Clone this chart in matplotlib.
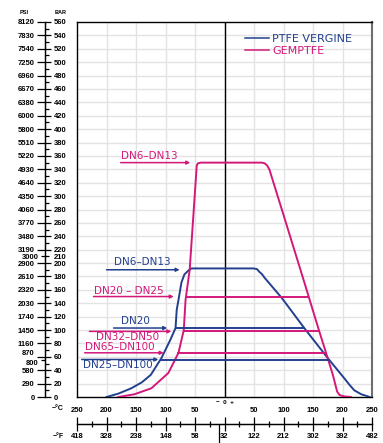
import matplotlib.pyplot as plt
from matplotlib.lines import Line2D
import numpy as np

# pressure scale (bar) with psi equivalents
bar_major = list(range(0, 561, 20))
psi_major = ['0', '290', '580', '870', '1160', '1450', '1740', '2030', '2320', '2610',
             '2900', '3190', '3480', '3770', '4060', '4350', '4640', '4930', '5220',
             '5510', '5800', '6000', '6380', '6670', '6960', '7250', '7540', '7830', '8120']
bar_minor = list(range(10, 560, 20))
psi_minor_pos = [55, 210]
psi_minor = ['800', '3000']

# temperature scale
temp_ticks = list(range(-250, 251, 50))
c_labels = ['250', '200', '150', '100', '50', '', '50', '100', '150', '200', '250']
f_labels = ['418', '328', '238', '148', '58', '32', '122', '212', '302', '392', '482']
temp_minor = list(range(-225, 250, 50))

# PTFE VERGINE envelope (deg C, bar)
ptfe_t = [-200, -180, -158, -140, -125, -107, -92, -83, -81, -78, -73, -68, -61, -56,
          49, 55, 59, 64, 68, 97, 136, 176, 190, 203, 212, 220, 232, 246]
ptfe_p = [0, 5, 13, 22, 33, 58, 85, 103, 130, 145, 171, 183, 189, 192,
          192, 191, 187, 183, 178, 148, 102, 57, 42, 28, 18, 10, 4, 0]
# GEMPTFE envelope
gem_t = [-180, -153, -124, -95, -78, -69, -66, -59, -47, -45, -40,
         63, 68, 72, 76, 100, 134, 161, 176, 184, 188, 191, 195, 202, 214]
gem_p = [0, 4, 13, 36, 66, 100, 145, 190, 346, 349, 350,
         350, 349, 346, 340, 272, 175, 97, 55, 32, 18, 8, 3, 1, 0]

# size-class plateaus: (label, level bar, left deg C, right deg C)
ptfe_levels = [('DN6–DN13', 192, None, None),
               ('DN20', 103, -83, 135),
               ('DN25–DN100', 56, -107, 177)]
gem_levels = [('DN6–DN13', 350, None, None),
              ('DN20 – DN25', 150, -63, 142),
              ('DN32–DN50', 98, -69, 161),
              ('DN65–DN100', 66, -78, 172)]

blue = '#22408e'
pink = '#d4187a'

W, H = 383, 443
fig = plt.figure(figsize=(W / 100, H / 100), dpi=100)


def box(x0, y0, x1, y1):
    return [x0 / W, 1 - y1 / H, (x1 - x0) / W, (y1 - y0) / H]


px0, py0, px1, py1 = 77, 22, 372, 397
ax = fig.add_axes(box(px0, py0, px1, py1))
ax.set_xlim(-250, 250)
ax.set_ylim(0, 560)
ax.set_xticks(range(-200, 201, 50))
ax.set_yticks(range(20, 560, 20))
ax.tick_params(length=0, labelbottom=False, labelleft=False)
ax.grid(True, color='#e3e3e3', lw=1)
ax.set_axisbelow(True)
ax.axvline(0, color='black', lw=1, zorder=1)
for s in ax.spines.values():
    s.set_color('black')
    s.set_linewidth(1)
ax.spines['right'].set_color('#6f6f6f')
ax.spines['right'].set_linewidth(1.5)

# curves
ax.plot(ptfe_t, ptfe_p, color=blue, lw=1.4, zorder=3)
ax.plot(gem_t, gem_p, color=pink, lw=1.4, zorder=3)
for name, lev, t0, t1 in ptfe_levels:
    if t0 is not None:
        ax.plot([t0, t1], [lev, lev], color=blue, lw=1.4, zorder=3)
for name, lev, t0, t1 in gem_levels:
    if t0 is not None:
        ax.plot([t0, t1], [lev, lev], color=pink, lw=1.4, zorder=3)

# labels with arrows: (text, level, colour, text x, arrow start x, arrow tip x, text offset)
tags = [('DN6–DN13', 350, pink, -176, -176, -58, 10),
        ('DN6–DN13', 190, blue, -188, -200, -76, 11),
        ('DN20 – DN25', 150, pink, -222, -222, -86, 9),
        ('DN20', 103, blue, -175, -188, -97, 10),
        ('DN32–DN50', 98, pink, -217, -229, -90, -8),
        ('DN65–DN100', 66, pink, -237, -237, -103, 9),
        ('DN25–DN100', 56, blue, -239, -242, -112, -8)]
for text, lev, col, tx, a0, a1, off in tags:
    ax.annotate('', xy=(a1, lev), xytext=(a0, lev),
                arrowprops=dict(arrowstyle='-|>', color=col, lw=1.1,
                                mutation_scale=5, shrinkA=0, shrinkB=0), zorder=4)
    ax.text(tx, lev + off, text, color=col, fontsize=7.5, ha='left', va='center',
            family='DejaVu Sans', zorder=4)

# legend
handles = [Line2D([], [], color=blue, lw=1.1), Line2D([], [], color=pink, lw=1.1)]
ax.legend(handles, ['PTFE VERGINE', 'GEMPTFE'], loc='upper left',
          bbox_to_anchor=((245 - px0) / (px1 - px0), (py1 - 34) / (py1 - py0)),
          frameon=False, fontsize=8, handlelength=2.15, handletextpad=0.3,
          labelspacing=0.15, borderpad=0, borderaxespad=0, labelcolor='linecolor')

tickfont = dict(family='Liberation Sans', weight='bold', size=5.5)

# left pressure scale
loc_y = (45 - px0) / (px1 - px0)
psi_ax = ax.secondary_yaxis(loc_y)
psi_ax.set_yticks(bar_major, psi_major)
psi_ax.set_yticks(psi_minor_pos, psi_minor, minor=True)
psi_ax.tick_params(which='major', direction='out', length=6, width=0.9, pad=1.5)
psi_ax.tick_params(which='minor', direction='out', length=3, width=0.9, pad=1.5)
bar_ax = ax.secondary_yaxis(loc_y)
bar_ax.set_alignment('right')
bar_ax.set_yticks(bar_major, [str(v) for v in bar_major])
bar_ax.set_yticks(bar_minor, ['210' if v == 210 else '' for v in bar_minor], minor=True)
bar_ax.tick_params(which='major', direction='out', length=4, width=0.9, pad=2.5)
bar_ax.tick_params(which='minor', direction='out', length=2.8, width=0.9, pad=3.7)
for a in (psi_ax, bar_ax):
    a.spines[:].set_linewidth(0.9)
    for lab in a.get_yticklabels(which='both'):
        lab.set_fontproperties(tickfont)
for lab in psi_ax.get_yticklabels():
    if lab.get_text() == '870':
        lab.set_va('bottom')
for lab in psi_ax.get_yticklabels(minor=True):
    if lab.get_text() == '800':
        lab.set_va('top')

# bottom temperature scale
loc_x = (py1 - 424) / (py1 - py0)
f_ax = ax.secondary_xaxis(loc_x)
f_ax.set_xticks(temp_ticks, f_labels)
f_ax.set_xticks(temp_minor, minor=True)
f_ax.tick_params(which='major', direction='inout', length=9.5, width=0.9, pad=1.5)
f_ax.tick_params(which='minor', direction='inout', length=5, width=0.9)
c_ax = ax.secondary_xaxis(loc_x)
c_ax.set_alignment('top')
c_ax.set_xticks(temp_ticks, c_labels)
c_ax.set_xticks([0], minor=True)
c_ax.tick_params(which='major', length=0, pad=7.5)
c_ax.tick_params(which='minor', direction='out', length=11.5, width=0.9)
z_ax = ax.secondary_xaxis(loc_x)
z_ax.spines[:].set_visible(False)
z_ax.set_xticks([-10], [''])
z_ax.tick_params(direction='out', length=13.5, width=0.9)
for a in (f_ax, c_ax):
    a.spines[:].set_linewidth(0.9)
    for lab in a.get_xticklabels():
        lab.set_fontproperties(tickfont)

ax.text(0, (py1 - 402) / (py1 - py0), '−  0  +', transform=ax.get_xaxis_transform(),
        ha='center', va='center', fontsize=4.5, family='Liberation Sans', weight='bold')
fig.text(58 / W, 1 - 409 / H, '−°C', fontsize=5, ha='center', va='center',
         family='Liberation Sans', weight='bold')
fig.text(58 / W, 1 - 436 / H, '−°F', fontsize=5, ha='center', va='center',
         family='Liberation Sans', weight='bold')
fig.text(24 / W, 1 - 12 / H, 'PSI', fontsize=4, ha='center', va='center',
         family='Liberation Sans', weight='bold')
fig.text(61 / W, 1 - 12 / H, 'BAR', fontsize=4, ha='center', va='center',
         family='Liberation Sans', weight='bold')

fig.savefig('out.png', dpi=100, facecolor='white')
